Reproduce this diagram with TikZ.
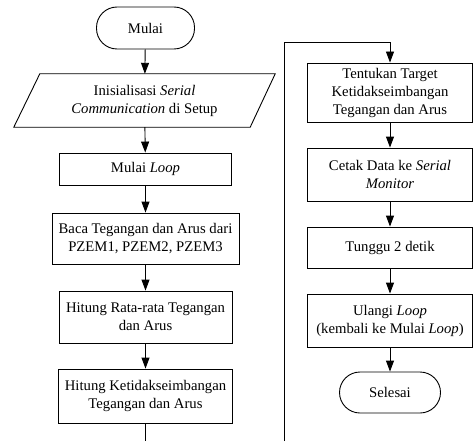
\documentclass[tikz,border=0pt]{standalone}
\usepackage{fontspec}
\setmainfont{Liberation Serif}
\usetikzlibrary{arrows.meta,calc}
\begin{document}
\begin{tikzpicture}[x=1pt,y=-1pt,
  every node/.style={font=\fontsize{14.7}{18}\selectfont, align=center, inner sep=0pt},
  box/.style={draw, line width=0.9pt, minimum width=#1, anchor=center},
  term/.style={draw, line width=0.9pt, rounded corners=20.5pt},
  arr/.style={line width=0.9pt, -{Triangle[width=8pt,length=11pt]}},
  ln/.style={line width=0.9pt}]
\useasboundingbox (0,0) rectangle (473,441);
% left column
\node[term, minimum width=98pt, minimum height=42pt] (m) at (145.5,28) {Mulai};
\node[minimum width=261pt, minimum height=53pt] (init) at (144.5,100.5) {Inisialisasi \textit{Serial}\\\textit{Communication} di Setup};
\draw[ln] ($(init.north west)+(26,0)$) -- (init.north east) -- ($(init.south east)-(25,0)$) -- (init.south west) -- cycle;
\node[box=172pt, minimum height=32pt] (lp) at (145.5,169) {Mulai \textit{Loop}};
\node[box=187pt, minimum height=51pt] (baca) at (145.5,238.5) {Baca Tegangan dan Arus dari\\PZEM1, PZEM2, PZEM3};
\node[box=173pt, minimum height=52pt] (rata) at (145.5,317) {Hitung Rata-rata Tegangan\\dan Arus};
\node[box=174pt, minimum height=54pt] (ket) at (145.5,396) {Hitung Ketidakseimbangan\\Tegangan dan Arus};
\coordinate (bl) at (145.5,441);
% right column
\node[box=165pt, minimum height=59pt] (tgt) at (390,92.5) {Tentukan Target\\Ketidakseimbangan\\Tegangan dan Arus};
\node[box=165pt, minimum height=53pt] (cetak) at (390,174.5) {Cetak Data ke \textit{Serial}\\\textit{Monitor}};
\node[box=165pt, minimum height=41pt] (tunggu) at (390,247.5) {Tunggu 2 detik};
\node[box=165pt, minimum height=53pt] (ulangi) at (390,320.5) {Ulangi \textit{Loop}\\(kembali ke Mulai \textit{Loop})};
\node[term, minimum width=101pt, minimum height=41pt] (sel) at (390,392.5) {Selesai};
\coordinate (tr) at (284.5,441);
\coordinate (tl) at (284.5,42);
% connectors
\draw[arr] (m) -- (init);
\draw[arr] (init) -- (lp);
\draw[arr] (lp) -- (baca);
\draw[arr] (baca) -- (rata);
\draw[arr] (rata) -- (ket);
\draw[ln] (ket) -- (bl);
\draw[arr] (tr) -- (tl) -| (tgt.north);
\draw[arr] (tgt) -- (cetak);
\draw[arr] (cetak) -- (tunggu);
\draw[arr] (tunggu) -- (ulangi);
\draw[arr] (ulangi) -- (sel);
\end{tikzpicture}
\end{document}
